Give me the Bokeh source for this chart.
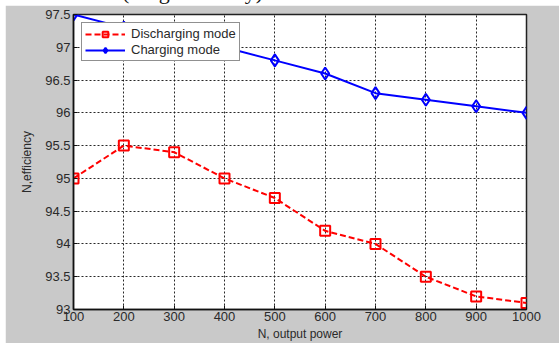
from bokeh.plotting import figure
from bokeh.models import (Range1d, FixedTicker, Div, Legend, LegendItem)
from bokeh.layouts import column
from bokeh.embed import file_html
from bokeh.resources import INLINE

# ---- data ----
power = [100, 200, 300, 400, 500, 600, 700, 800, 900, 1000]
discharging = [95.0, 95.5, 95.4, 95.0, 94.7, 94.2, 94.0, 93.5, 93.2, 93.1]
charging = [97.5, 97.3, 97.15, 97.0, 96.8, 96.6, 96.3, 96.2, 96.1, 96.0]
x_ticks = [100, 200, 300, 400, 500, 600, 700, 800, 900, 1000]
y_ticks = [93, 93.5, 94, 94.5, 95, 95.5, 96, 96.5, 97, 97.5]
y_tick_labels = ["93", "93.5", "94", "94.5", "95", "95.5", "96", "96.5", "97", "97.5"]
series_names = ["Discharging mode", "Charging mode"]
x_title = "N, output power"
y_title = "N,efficiency"
caption = "(Original study)"

GRAY = "#c9c9c9"
FONT = "Liberation Sans"

p = figure(width=554, height=338, output_backend="svg", toolbar_location=None,
           x_range=Range1d(100, 1000), y_range=Range1d(93, 97.5),
           min_border_left=68, min_border_right=33, min_border_top=9, min_border_bottom=34)
p.margin = (0, 0, 0, 5)
p.border_fill_color = GRAY
p.background_fill_color = "white"
p.outline_line_color = "#222222"
p.outline_line_width = 1.5

for ax in (p.xaxis[0], p.yaxis[0]):
    ax.axis_line_color = "#111111"
    ax.axis_line_width = 1.5
    ax.major_tick_in = 4
    ax.major_tick_out = 0
    ax.minor_tick_line_color = None
    ax.major_tick_line_color = "#111111"
    ax.major_label_text_font = FONT
    ax.major_label_text_font_size = "13px"
    ax.major_label_text_color = "#2a2a2a"
    ax.axis_label_text_font = FONT
    ax.axis_label_text_font_size = "12px"
    ax.axis_label_text_font_style = "normal"
    ax.axis_label_text_color = "#2a2a2a"

p.xaxis.ticker = FixedTicker(ticks=x_ticks)
p.yaxis.ticker = FixedTicker(ticks=y_ticks)
p.yaxis.major_label_overrides = {t: l for t, l in zip(y_ticks, y_tick_labels)}
p.xaxis.axis_label = x_title
p.yaxis.axis_label = y_title
p.xaxis.major_label_standoff = 2
p.xaxis.axis_label_standoff = 3
p.yaxis.major_label_standoff = 3
p.yaxis.axis_label_standoff = 8

p.xgrid.ticker = FixedTicker(ticks=x_ticks)
p.ygrid.ticker = FixedTicker(ticks=y_ticks)
for g in (p.xgrid[0], p.ygrid[0]):
    g.grid_line_color = "#111111"
    g.grid_line_dash = "2 2"
    g.grid_line_width = 1
    g.grid_line_alpha = 0.9

r1l = p.line(power, discharging, line_color="red", line_width=2, line_dash="6 3")
r1m = p.scatter(power, discharging, marker="square", size=10, line_color="red",
                fill_color=None, line_width=2)
r2l = p.line(power, charging, line_color="blue", line_width=2)
r2m = p.scatter(power, charging, marker="diamond", size=12, line_color="blue",
                fill_color=None, line_width=2)

legend = Legend(items=[LegendItem(label=series_names[0], renderers=[r1l, r1m]),
                       LegendItem(label=series_names[1], renderers=[r2l, r2m])],
                location="top_left", margin=8, padding=3, spacing=1,
                glyph_width=40, glyph_height=14, label_height=14,
                label_text_font=FONT, label_text_font_size="13px",
                label_text_color="#2a2a2a", label_standoff=6,
                border_line_color="#222222", border_line_width=1,
                background_fill_color="white", background_fill_alpha=1)
p.add_layout(legend, "center")

div = Div(text=f'<div style="position:absolute; left:122px; top:-19px; font:22px \'Liberation Serif\'; '
               f'line-height:22px; white-space:nowrap; color:#111;">{caption}</div>',
          width=559, height=5, styles={"overflow": "hidden", "position": "relative"}, margin=0)

layout = column(div, p, spacing=0)
layout.margin = 0

html = file_html(layout, INLINE)
html = html.replace("<body>", '<body style="margin:0;background:white;">')
open("out.html", "w").write(html)
